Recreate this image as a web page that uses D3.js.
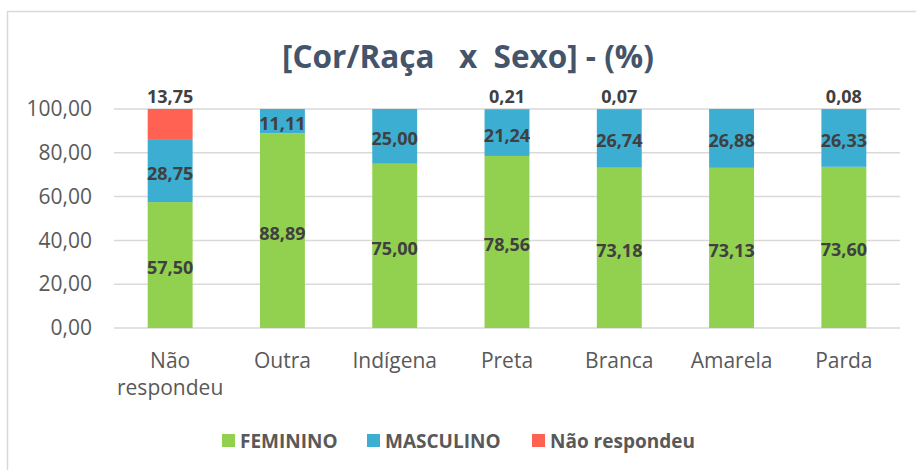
<!DOCTYPE html>
<html>
<head>
<meta charset="utf-8">
<script src="https://cdn.jsdelivr.net/npm/d3@7"></script>
<style>
  html, body { margin: 0; padding: 0; background: #fff; }
  svg { display: block; font-family: "Open Sans", sans-serif; }
</style>
</head>
<body>
<svg id="chart" width="916" height="470"></svg>
<script>
// Categories (cor/raça) and percentage share of each sex within them
const categories = ["Não\nrespondeu", "Outra", "Indígena", "Preta", "Branca", "Amarela", "Parda"];
const feminino   = [57.50, 88.89, 75.00, 78.56, 73.18, 73.13, 73.60];
const masculino  = [28.75, 11.11, 25.00, 21.24, 26.74, 26.88, 26.33];
const naoResp    = [13.75, 0, 0, 0.21, 0.07, 0, 0.08];
const seriesNames = ["FEMININO", "MASCULINO", "Não respondeu"];
const yTicks = [0, 20, 40, 60, 80, 100];

const colors = ["#92d050", "#3caed2", "#ff6252"];
const fmt = v => d3.format(".2f")(v).replace(".", ",");

const svg = d3.select("#chart");

// chart area border
svg.append("rect")
  .attr("x", 7.5).attr("y", 11.5)
  .attr("width", 940).attr("height", 480)
  .attr("fill", "#fff").attr("stroke", "#d9d9d9").attr("stroke-width", 1.5);

const plot = { left: 114, right: 900, top: 109, bottom: 328 };

const x = d3.scaleBand().domain(d3.range(categories.length))
  .range([plot.left, plot.right]).paddingInner(0.6).paddingOuter(0.3);
const y = d3.scaleLinear().domain([0, 100]).range([plot.bottom, plot.top]);

// title
svg.append("text")
  .attr("x", 468).attr("y", 68)
  .attr("text-anchor", "middle")
  .style("white-space", "pre")
  .attr("font-size", 31.5).attr("font-weight", 700).attr("fill", "#44546a")
  .text("[Cor/Raça   x  Sexo] - (%)");

// gridlines
svg.append("g").selectAll("line").data(yTicks).join("line")
  .attr("x1", plot.left).attr("x2", plot.right)
  .attr("y1", d => y(d)).attr("y2", d => y(d))
  .attr("stroke", "#d9d9d9").attr("stroke-width", 1.5);

// y axis labels
const yAxis = d3.axisLeft(y).tickValues(yTicks).tickFormat(fmt).tickSize(0).tickPadding(0);
const gy = svg.append("g").attr("transform", `translate(92,0)`).call(yAxis);
gy.select(".domain").remove();
gy.selectAll("text")
  .attr("font-family", "Open Sans, sans-serif")
  .attr("font-size", 21).attr("fill", "#595959");

// stacked bars
const rows = categories.map((c, i) => ({ i, v: [feminino[i], masculino[i], naoResp[i]] }));
const stack = d3.stack().keys([0, 1, 2]).value((d, k) => d.v[k]);
const layers = stack(rows);

const bw = x.bandwidth();
layers.forEach((layer, k) => {
  svg.append("g").selectAll("rect").data(layer).join("rect")
    .attr("x", (d, i) => x(i))
    .attr("width", bw)
    .attr("y", d => y(d[1]))
    .attr("height", d => y(d[0]) - y(d[1]))
    .attr("fill", colors[k]);
});

// value labels
const labelG = svg.append("g")
  .attr("font-size", 18).attr("font-weight", 700).attr("fill", "#404040")
  .attr("text-anchor", "middle");

[0, 1].forEach(k => {
  labelG.selectAll(null).data(layers[k]).join("text")
    .attr("x", (d, i) => x(i) + bw / 2)
    .attr("y", d => (y(d[0]) + y(d[1])) / 2 + 9)
    .text((d, i) => fmt(d.data.v[k]));
});
// "Não respondeu" labels sit above the bar top
labelG.selectAll(null).data(layers[2].filter(d => d.data.v[2] > 0)).join("text")
  .attr("x", d => x(d.data.i) + bw / 2)
  .attr("y", d => y(d[1]) - 6)
  .text(d => fmt(d.data.v[2]));

// category labels (first line, plus a second line when wrapped)
const xl = svg.append("g").attr("font-size", 21).attr("fill", "#595959").attr("text-anchor", "middle");
categories.forEach((c, i) => {
  c.split("\n").forEach((line, j) => {
    xl.append("text")
      .attr("x", x(i) + bw / 2)
      .attr("y", 368 + j * 27)
      .text(line);
  });
});

// legend
const legendX = [222, 367, 532];
const lg = svg.append("g");
seriesNames.forEach((name, k) => {
  lg.append("rect").attr("x", legendX[k]).attr("y", 434).attr("width", 13).attr("height", 13)
    .attr("fill", colors[k]);
  lg.append("text").attr("x", legendX[k] + 18).attr("y", 448)
    .attr("font-size", 19).attr("font-weight", 700).attr("fill", "#595959")
    .text(name);
});
</script>
</body>
</html>
